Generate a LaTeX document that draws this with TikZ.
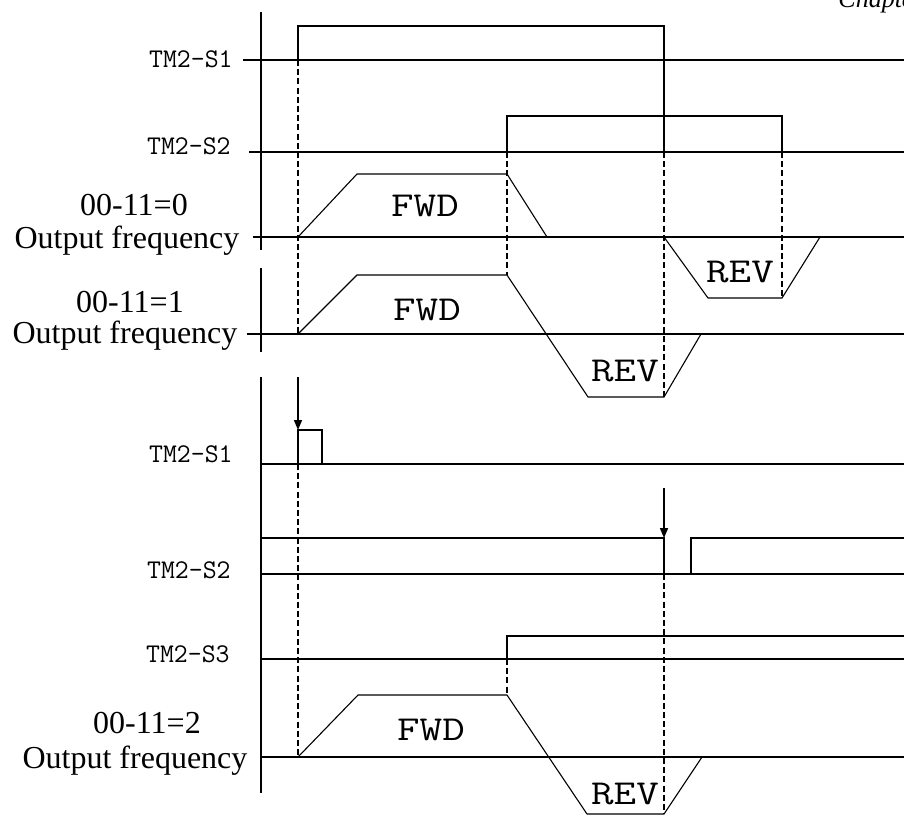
\documentclass[tikz,border=0pt]{standalone}
\usepackage{graphicx}
\usepackage{fontspec}
\setmainfont{Liberation Serif}
\usetikzlibrary{arrows.meta}
\newcommand{\wide}[1]{\scalebox{1.25}[1]{#1}}

\begin{document}
\begin{tikzpicture}[x=0.5pt,y=-0.5pt,
	sigline/.style={line width=0.8pt},
	rampline/.style={line width=0.55pt},
	guideline/.style={line width=0.55pt, dash pattern=on 3pt off 1.6pt},
	trig/.style={line width=0.8pt, -{Triangle[length=5pt,width=4pt]}},
	monolbl/.style={font=\ttfamily\fontsize{13.5}{15}\selectfont, inner sep=0pt},
	seriflbl/.style={font=\fontsize{16}{19}\selectfont, inner sep=0pt},
	statelbl/.style={font=\ttfamily\fontsize{17.5}{19}\selectfont, inner sep=0pt}]
			\useasboundingbox (0,0) rectangle (904,816);
			\fill[white] (0,0) rectangle (904,816);
			\clip (0,0) rectangle (904,816);
			% page header, cut by the top edge
			\node[anchor=base west, inner sep=0pt, font=\itshape\fontsize{13}{15}\selectfont] (hdr) at (838,7) {Chapter};
			% axes
			\draw[sigline] (261,12) -- (261,250);
			\draw[sigline] (261,268) -- (261,352);
			\draw[sigline] (261,377) -- (261,793);
			% top: TM2-S1 and TM2-S2 held
			\draw[sigline] (243,60) -- (904,60);
			\draw[sigline] (298,60) -- (298,26) -- (664,26) -- (664,152);
			\draw[sigline] (249,152) -- (904,152);
			\draw[sigline] (507,152) -- (507,116) -- (782,116) -- (782,152);
			\draw[guideline] (298,60) -- (298,334);
			\draw[guideline] (507,152) -- (507,275);
			\draw[guideline] (664,152) -- (664,397);
			\draw[guideline] (782,152) -- (782,298);
			% 00-11=0
			\draw[sigline] (253,237) -- (904,237);
			\draw[rampline] (298,237) -- (357,174) -- (507,174) -- (547,237);
			\draw[rampline] (664,237) -- (708,298) -- (782,298) -- (820,237);
			% 00-11=1
			\draw[sigline] (247,334) -- (904,334);
			\draw[rampline] (298,334) -- (357,275) -- (507,275) -- (588,397) -- (664,397) -- (701,334);
			% bottom: pulses on TM2-S1 / TM2-S2, TM2-S3 held
			\draw[trig] (298,377) -- (298,430);
			\draw[sigline] (261,464) -- (904,464);
			\draw[sigline] (298,464) -- (298,430) -- (322,430) -- (322,464);
			\draw[guideline] (298,464) -- (298,757);
			\draw[sigline] (261,538) -- (664,538) -- (664,574);
			\draw[sigline] (261,574) -- (904,574);
			\draw[sigline] (691,574) -- (691,538) -- (904,538);
			\draw[trig] (664,488) -- (664,538);
			\draw[guideline] (664,574) -- (664,814);
			\draw[sigline] (261,659) -- (904,659);
			\draw[sigline] (507,659) -- (507,636) -- (904,636);
			\draw[guideline] (507,659) -- (507,695);
			% 00-11=2
			\draw[sigline] (261,757) -- (904,757);
			\draw[rampline] (298,757) -- (358,695) -- (507,695) -- (587,814) -- (664,814) -- (702,757);
			% signal labels
			\node[monolbl, anchor=east] (s1a) at (233,59) {TM2-S1};
			\node[monolbl, anchor=east] (s2a) at (231,146) {TM2-S2};
			\node[monolbl, anchor=east] (s1b) at (233,454) {TM2-S1};
			\node[monolbl, anchor=east] (s2b) at (231,570) {TM2-S2};
			\node[monolbl, anchor=east] (s3b) at (230,654) {TM2-S3};
			\node[seriflbl, anchor=base] (f0n) at (134,215) {00-11=0};
			\node[seriflbl, anchor=base] (f0o) at (127,248) {Output frequency};
			\node[seriflbl, anchor=base] (f1n) at (130,312) {00-11=1};
			\node[seriflbl, anchor=base] (f1o) at (125,343) {Output frequency};
			\node[seriflbl, anchor=base] (f2n) at (147,733) {00-11=2};
			\node[seriflbl, anchor=base] (f2o) at (135,768) {Output frequency};
			% run direction
			\node[statelbl] (fwd0) at (425,206) {\wide{FWD}};
			\node[statelbl] (rev0) at (740,272) {\wide{REV}};
			\node[statelbl] (fwd1) at (427,310) {\wide{FWD}};
			\node[statelbl] (rev1) at (625,371) {\wide{REV}};
			\node[statelbl] (fwd2) at (431,730) {\wide{FWD}};
			\node[statelbl] (rev2) at (625,794) {\wide{REV}};
		\end{tikzpicture}
\end{document}
